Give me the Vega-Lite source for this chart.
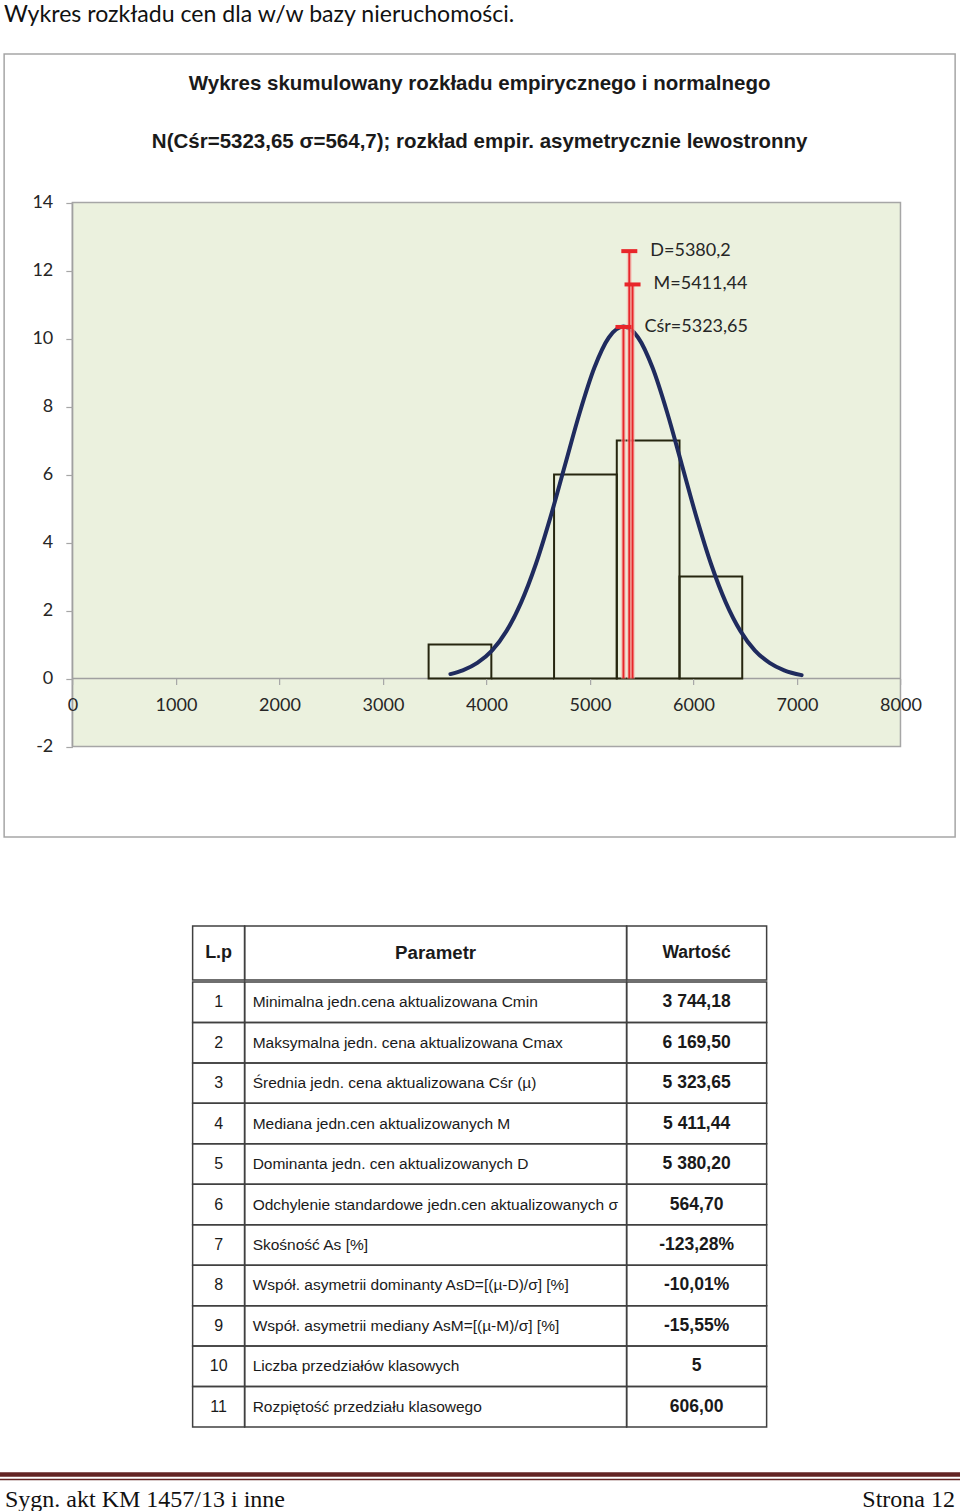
{
  "$schema": "https://vega.github.io/schema/vega-lite/v6.json",
  "padding": {"left": 0, "top": 3, "right": 0, "bottom": 0},
  "background": "white",
  "title": {
    "text": "Wykres rozkładu cen dla w/w bazy nieruchomości.",
    "anchor": "start",
    "frame": "group",
    "font": "Lato",
    "fontSize": 23.1,
    "fontWeight": "normal",
    "color": "#111111",
    "baseline": "alphabetic",
    "offset": 8.5,
    "dx": 4
  },
  "datasets": {
    "klasy": [
      {"od": 3441.18, "do": 4047.18, "liczebnosc": 1},
      {"od": 4047.18, "do": 4653.18, "liczebnosc": 0},
      {"od": 4653.18, "do": 5259.18, "liczebnosc": 6},
      {"od": 5259.18, "do": 5865.18, "liczebnosc": 7},
      {"od": 5865.18, "do": 6471.18, "liczebnosc": 3}
    ],
    "krzywa": [
      {"cena": 3652, "y": 0.13}, {"cena": 3770.7, "y": 0.24}, {"cena": 3912.0, "y": 0.46},
      {"cena": 4053.1, "y": 0.82}, {"cena": 4194.3, "y": 1.40}, {"cena": 4335.4, "y": 2.24},
      {"cena": 4476.6, "y": 3.36}, {"cena": 4617.8, "y": 4.74}, {"cena": 4759.0, "y": 6.28},
      {"cena": 4900.1, "y": 7.81}, {"cena": 5041.3, "y": 9.13}, {"cena": 5182.5, "y": 10.03},
      {"cena": 5323.7, "y": 10.35}, {"cena": 5464.8, "y": 10.03}, {"cena": 5606.0, "y": 9.13},
      {"cena": 5747.2, "y": 7.81}, {"cena": 5888.4, "y": 6.28}, {"cena": 6029.5, "y": 4.74},
      {"cena": 6170.7, "y": 3.36}, {"cena": 6311.9, "y": 2.24}, {"cena": 6453.0, "y": 1.40},
      {"cena": 6594.2, "y": 0.82}, {"cena": 6735.4, "y": 0.46}, {"cena": 6876.6, "y": 0.24},
      {"cena": 7045, "y": 0.10}
    ],
    "miary": [
      {"miara": "Cśr", "wartosc": 5323.65, "wysokosc": 10.34, "etykieta": "Cśr=5323,65"},
      {"miara": "D", "wartosc": 5380.2, "wysokosc": 12.57, "etykieta": "D=5380,2"},
      {"miara": "M", "wartosc": 5411.44, "wysokosc": 11.59, "etykieta": "M=5411,44"}
    ],
    "tabela": [
      {"lp": 1, "parametr": "Minimalna jedn.cena aktualizowana Cmin", "wartosc": "3 744,18"},
      {"lp": 2, "parametr": "Maksymalna jedn. cena aktualizowana Cmax", "wartosc": "6 169,50"},
      {"lp": 3, "parametr": "Średnia jedn. cena aktualizowana Cśr (µ)", "wartosc": "5 323,65"},
      {"lp": 4, "parametr": "Mediana jedn.cen aktualizowanych M", "wartosc": "5 411,44"},
      {"lp": 5, "parametr": "Dominanta jedn. cen aktualizowanych D", "wartosc": "5 380,20"},
      {"lp": 6, "parametr": "Odchylenie standardowe jedn.cen aktualizowanych σ", "wartosc": "564,70"},
      {"lp": 7, "parametr": "Skośność As [%]", "wartosc": "-123,28%"},
      {"lp": 8, "parametr": "Współ. asymetrii dominanty AsD=[(µ-D)/σ]     [%]", "wartosc": "-10,01%"},
      {"lp": 9, "parametr": "Współ. asymetrii mediany AsM=[(µ-M)/σ]     [%]", "wartosc": "-15,55%"},
      {"lp": 10, "parametr": "Liczba przedziałów klasowych", "wartosc": "5"},
      {"lp": 11, "parametr": "Rozpiętość przedziału klasowego", "wartosc": "606,00"}
    ]
  },
  "spacing": 0,
  "center": true,
  "vconcat": [
    {
      "width": 951,
      "height": 871,
      "title": {
        "text": ["Wykres skumulowany rozkładu empirycznego i normalnego", "N(Cśr=5323,65 σ=564,7); rozkład empir. asymetrycznie lewostronny"],
        "anchor": "middle",
        "frame": "group",
        "baseline": "alphabetic",
        "offset": -115.5,
        "lineHeight": 58,
        "font": "Liberation Sans",
        "fontSize": 20.5,
        "fontWeight": "bold",
        "color": "#1a1a1a"
      },
      "layer": [
        {
          "data": {"values": [{"element": "ramka"}]},
          "mark": {"type": "rect", "fill": "white", "stroke": "#A6A6A6", "strokeWidth": 1.5},
          "encoding": {
            "x": {"datum": -660, "type": "quantitative"},
            "x2": {"datum": 8528},
            "y": {"datum": 18.368, "type": "quantitative"},
            "y2": {"datum": -4.662}
          }
        },
        {
          "data": {"values": [{"element": "obszar"}]},
          "mark": {"type": "rect", "fill": "#EBF1DE", "stroke": "#A6A6A6", "strokeWidth": 1.5},
          "encoding": {
            "x": {"datum": 0, "type": "quantitative"},
            "x2": {"datum": 8000},
            "y": {"datum": -2, "type": "quantitative"},
            "y2": {"datum": 14}
          }
        },
        {
          "data": {"values": [{"element": "os"}]},
          "mark": {"type": "rule", "color": "#A0A0A0", "strokeWidth": 1.5},
          "encoding": {
            "x": {"datum": 0, "type": "quantitative"},
            "x2": {"datum": 8000},
            "y": {"datum": 0, "type": "quantitative"}
          }
        },
        {
          "data": {"values": [{"element": "os"}]},
          "mark": {"type": "rule", "color": "#A0A0A0", "strokeWidth": 1.5},
          "encoding": {
            "x": {"datum": 0, "type": "quantitative"},
            "y": {"datum": -2, "type": "quantitative"},
            "y2": {"datum": 14}
          }
        },
        {
          "data": {"name": "klasy"},
          "mark": {"type": "rect", "fill": "transparent", "stroke": "#26260F", "strokeWidth": 2},
          "encoding": {
            "x": {"field": "od", "type": "quantitative",
              "scale": {"domain": [-660, 8528], "nice": false, "zero": false},
              "axis": {"orient": "bottom", "offset": -246.5, "zindex": 1, "values": [0, 1000, 2000, 3000, 4000, 5000, 6000, 7000, 8000],
                "labelExpr": "'' + datum.value", "domain": false, "grid": false, "ticks": true, "tickSize": 6, "tickColor": "#A6A6A6", "tickWidth": 1.2,
                "labelFont": "Lato", "labelFontSize": 18, "labelColor": "#262626", "labelPadding": 12, "labelFlush": false, "labelOverlap": false, "title": null}},
            "x2": {"field": "do"},
            "y": {"field": "liczebnosc", "type": "quantitative",
              "scale": {"domain": [-7.25, 18.368], "nice": false, "zero": false},
              "axis": {"orient": "left", "offset": -68.3, "zindex": 1, "values": [-2, 0, 2, 4, 6, 8, 10, 12, 14],
                "labelExpr": "'' + datum.value", "domain": false, "grid": false, "ticks": true, "tickSize": 6.6, "tickColor": "#A6A6A6", "tickWidth": 1.2,
                "labelFont": "Lato", "labelFontSize": 18, "labelColor": "#262626", "labelPadding": 13, "labelBaseline": "middle", "labelOverlap": false, "title": null}},
            "y2": {"datum": 0}
          }
        },
        {
          "data": {"name": "krzywa"},
          "mark": {"type": "line", "color": "#1F2B5E", "strokeWidth": 4, "interpolate": "monotone", "strokeCap": "round"},
          "encoding": {
            "x": {"field": "cena", "type": "quantitative"},
            "y": {"field": "y", "type": "quantitative"}
          }
        },
        {
          "data": {"name": "miary"},
          "mark": {"type": "rule", "color": "#F5B5AE", "strokeWidth": 5, "opacity": 0.6},
          "encoding": {
            "x": {"field": "wartosc", "type": "quantitative"},
            "y": {"field": "wysokosc", "type": "quantitative"},
            "y2": {"datum": 0}
          }
        },
        {
          "data": {"name": "miary"},
          "mark": {"type": "rule", "color": "#E8262A", "strokeWidth": 2},
          "encoding": {
            "x": {"field": "wartosc", "type": "quantitative"},
            "y": {"field": "wysokosc", "type": "quantitative"},
            "y2": {"datum": 0}
          }
        },
        {
          "data": {"name": "miary"},
          "mark": {"type": "point", "shape": "M -1 -0.25 L 1 -0.25 L 1 0.25 L -1 0.25 Z", "size": 256, "filled": true, "color": "#E8262A", "opacity": 1},
          "encoding": {
            "x": {"field": "wartosc", "type": "quantitative"},
            "y": {"field": "wysokosc", "type": "quantitative"}
          }
        },
        {
          "data": {"name": "miary"},
          "mark": {"type": "text", "align": "left", "baseline": "middle", "dx": 21, "font": "Lato", "fontSize": 18, "color": "#262626"},
          "encoding": {
            "x": {"field": "wartosc", "type": "quantitative"},
            "y": {"field": "wysokosc", "type": "quantitative"},
            "text": {"field": "etykieta"}
          }
        }
      ]
    },
    {
      "spacing": 0,
      "bounds": "flush",
      "hconcat": [
        {
          "width": 52, "height": 54,
          "view": {"stroke": "#404040", "strokeWidth": 1.5},
          "data": {"values": [{"naglowek": "L.p"}]},
          "mark": {"type": "text", "font": "Liberation Sans", "fontSize": 18, "fontWeight": "bold", "color": "#1a1a1a", "baseline": "middle"},
          "encoding": {"text": {"field": "naglowek"}}
        },
        {
          "width": 382, "height": 54,
          "view": {"stroke": "#404040", "strokeWidth": 1.5},
          "data": {"values": [{"naglowek": "Parametr"}]},
          "mark": {"type": "text", "font": "Liberation Sans", "fontSize": 18.7, "fontWeight": "bold", "color": "#1a1a1a", "baseline": "middle"},
          "encoding": {"text": {"field": "naglowek"}}
        },
        {
          "width": 140, "height": 54,
          "view": {"stroke": "#404040", "strokeWidth": 1.5},
          "data": {"values": [{"naglowek": "Wartość"}]},
          "mark": {"type": "text", "font": "Liberation Sans", "fontSize": 17.5, "fontWeight": "bold", "color": "#1a1a1a", "baseline": "middle"},
          "encoding": {"text": {"field": "naglowek"}}
        }
      ]
    },
    {
      "spacing": 0,
      "bounds": "flush",
      "hconcat": [
        {
          "width": 52, "height": 445,
          "data": {"name": "tabela"},
          "encoding": {"y": {"field": "lp", "type": "ordinal", "scale": {"paddingInner": 0, "paddingOuter": 0}, "axis": null}},
          "layer": [
            {"mark": {"type": "rect", "fill": "transparent", "stroke": "#404040", "strokeWidth": 1.5}},
            {"mark": {"type": "text", "font": "Liberation Sans", "fontSize": 16, "color": "#1a1a1a", "baseline": "middle"},
             "encoding": {"text": {"field": "lp"}}}
          ]
        },
        {
          "width": 382, "height": 445,
          "data": {"name": "tabela"},
          "encoding": {"y": {"field": "lp", "type": "ordinal", "scale": {"paddingInner": 0, "paddingOuter": 0}, "axis": null}},
          "layer": [
            {"mark": {"type": "rect", "fill": "transparent", "stroke": "#404040", "strokeWidth": 1.5}},
            {"mark": {"type": "text", "font": "Liberation Sans", "fontSize": 15.5, "color": "#1a1a1a", "baseline": "middle", "align": "left", "dx": 8},
             "encoding": {
               "x": {"datum": 0, "type": "quantitative", "scale": {"domain": [0, 1], "nice": false}, "axis": null},
               "text": {"field": "parametr"}}}
          ]
        },
        {
          "width": 140, "height": 445,
          "data": {"name": "tabela"},
          "encoding": {"y": {"field": "lp", "type": "ordinal", "scale": {"paddingInner": 0, "paddingOuter": 0}, "axis": null}},
          "layer": [
            {"mark": {"type": "rect", "fill": "transparent", "stroke": "#404040", "strokeWidth": 1.5}},
            {"mark": {"type": "text", "font": "Liberation Sans", "fontSize": 17.5, "fontWeight": "bold", "color": "#1a1a1a", "baseline": "middle"},
             "encoding": {"text": {"field": "wartosc"}}}
          ]
        }
      ]
    },
    {
      "width": 960,
      "height": 86,
      "data": {"values": [{"lewa": "Sygn. akt KM 1457/13 i inne", "prawa": "Strona 12"}]},
      "layer": [
        {
          "mark": {"type": "rect", "color": "#622423"},
          "encoding": {
            "x": {"datum": 0, "type": "quantitative", "scale": {"domain": [0, 1], "nice": false}, "axis": null},
            "x2": {"datum": 1},
            "y": {"datum": 37.25, "type": "quantitative", "scale": {"domain": [0, 86], "nice": false, "zero": false}, "axis": null},
            "y2": {"datum": 41.75}
          }
        },
        {
          "mark": {"type": "rect", "color": "#622423"},
          "encoding": {
            "x": {"datum": 0, "type": "quantitative"},
            "x2": {"datum": 1},
            "y": {"datum": 33.75, "type": "quantitative"},
            "y2": {"datum": 35.25}
          }
        },
        {
          "mark": {"type": "text", "align": "left", "baseline": "alphabetic", "dx": 5, "font": "Liberation Serif", "fontSize": 24, "color": "#111111"},
          "encoding": {
            "x": {"datum": 0, "type": "quantitative"},
            "y": {"datum": 7.5, "type": "quantitative"},
            "text": {"field": "lewa"}
          }
        },
        {
          "mark": {"type": "text", "align": "right", "baseline": "alphabetic", "dx": -5, "font": "Liberation Serif", "fontSize": 24, "color": "#111111"},
          "encoding": {
            "x": {"datum": 1, "type": "quantitative"},
            "y": {"datum": 7.5, "type": "quantitative"},
            "text": {"field": "prawa"}
          }
        }
      ]
    }
  ],
  "config": {
    "view": {"stroke": null}
  }
}
